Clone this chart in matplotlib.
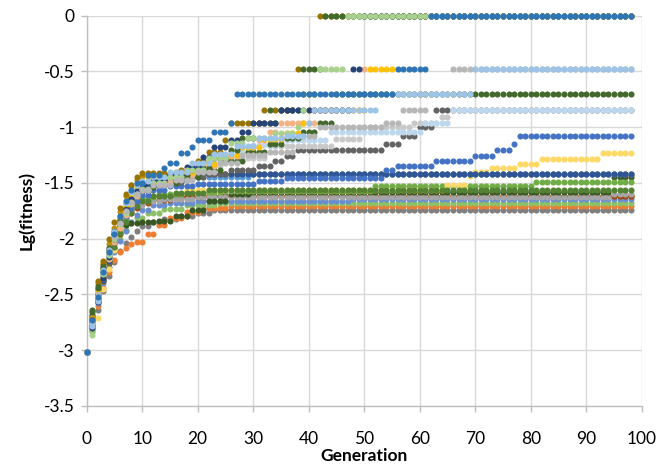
"""
Lg(fitness) of every run versus generation, drawn as a dot per generation.
Each run is stored as step points (generation, value); a value holds until the next step.
"""

import matplotlib
matplotlib.use("Agg")
import matplotlib.pyplot as plt
import numpy as np

generations = np.arange(0, 99)

# run data: (generation, lg fitness) step points
run01 = [(0, -3.02), (1, -2.82), (2, -2.64), (3, -2.47), (4, -2.33), (5, -2.21), (6, -2.11), (7, -2.04),
         (8, -1.98), (9, -1.93), (10, -1.89), (12, -1.85), (14, -1.82), (17, -1.80), (20, -1.77), (23, -1.745)]
run02 = [(0, -3.02), (1, -2.78), (2, -2.60), (3, -2.44), (4, -2.30), (5, -2.19), (6, -2.12), (7, -2.08),
         (8, -2.05), (9, -2.025), (11, -1.96), (13, -1.88), (15, -1.81), (18, -1.76), (21, -1.725), (26, -1.705)]
run03 = [(0, -3.02), (1, -2.84), (2, -2.50), (3, -2.36), (4, -2.22), (5, -2.10), (6, -2.00), (7, -1.92),
         (8, -1.86), (9, -1.81), (11, -1.77), (14, -1.73), (18, -1.70), (24, -1.68)]
run04 = [(0, -3.02), (1, -2.76), (2, -2.58), (3, -2.40), (4, -2.25), (5, -2.12), (6, -2.02), (7, -1.93),
         (8, -1.85), (9, -1.79), (10, -1.74), (12, -1.70), (15, -1.68), (20, -1.66), (48, -1.645)]
run05 = [(0, -3.02), (1, -2.72), (2, -2.54), (3, -2.36), (4, -2.19), (5, -2.05), (6, -1.93), (7, -1.83),
         (8, -1.74), (9, -1.68), (10, -1.64), (12, -1.62)]
run06 = [(0, -3.02), (1, -2.74), (2, -2.56), (3, -2.38), (4, -2.22), (5, -2.08), (6, -1.96), (7, -1.85),
         (8, -1.77), (9, -1.72), (10, -1.68), (12, -1.65), (16, -1.63), (22, -1.62)]
run07 = [(0, -3.02), (1, -2.70), (2, -2.50), (3, -2.33), (4, -2.18), (5, -2.04), (6, -1.92), (7, -1.82),
         (8, -1.75), (9, -1.70), (11, -1.66), (14, -1.64), (20, -1.63), (95, -1.60)]
run08 = [(0, -3.02), (1, -2.68), (2, -2.50), (3, -2.32), (4, -2.15), (5, -2.02), (6, -1.93), (7, -1.88),
         (8, -1.86), (10, -1.85), (13, -1.84), (16, -1.80), (19, -1.74), (22, -1.66), (26, -1.60), (30, -1.58),
         (95, -1.445)]
run09 = [(0, -3.02), (1, -2.72), (2, -2.53), (3, -2.34), (4, -2.18), (5, -2.03), (6, -1.91), (7, -1.81),
         (8, -1.73), (9, -1.67), (10, -1.63), (13, -1.60), (18, -1.58), (25, -1.57), (52, -1.53), (81, -1.49)]
run10 = [(0, -3.02), (1, -2.80), (2, -2.71), (3, -2.45), (4, -2.27), (5, -2.10), (6, -1.93), (7, -1.70),
         (8, -1.54), (11, -1.50), (14, -1.52), (18, -1.56), (65, -1.52), (69, -1.436), (70, -1.40),
         (73, -1.365), (78, -1.326), (82, -1.284), (93, -1.233)]
run11 = [(0, -3.02), (1, -2.77), (2, -2.55), (3, -2.37), (4, -2.21), (5, -2.07), (6, -1.95), (7, -1.85),
         (8, -1.77), (9, -1.71), (10, -1.66), (12, -1.62), (16, -1.59), (22, -1.562)]
run12 = [(0, -3.02), (1, -2.70), (2, -2.40), (3, -2.22), (4, -2.05), (5, -1.90), (6, -1.76), (7, -1.62),
         (8, -1.52), (9, -1.47), (10, -1.44), (13, -1.42), (21, -1.416)]
run13 = [(0, -3.02), (1, -2.77), (2, -2.47), (3, -2.25), (4, -2.08), (5, -1.93), (6, -1.80), (7, -1.69),
         (8, -1.60), (9, -1.55), (10, -1.50), (13, -1.47), (19, -1.45), (30, -1.416)]
run14 = [(0, -3.02), (1, -2.78), (2, -2.56), (3, -2.37), (4, -2.20), (5, -2.03), (6, -1.89), (7, -1.77),
         (8, -1.68), (9, -1.62), (10, -1.57), (12, -1.52), (15, -1.47), (18, -1.44), (21, -1.416)]
run15 = [(0, -3.02), (1, -2.75), (2, -2.50), (3, -2.30), (4, -2.11), (5, -1.98), (6, -1.88), (7, -1.80),
         (8, -1.72), (9, -1.66), (10, -1.61), (12, -1.56), (15, -1.53), (20, -1.51), (31, -1.48), (36, -1.457),
         (54, -1.38), (56, -1.344), (63, -1.30), (70, -1.257), (74, -1.206), (77, -1.152), (78, -1.08)]
run16 = [(0, -3.02), (1, -2.70), (2, -2.45), (3, -2.26), (4, -2.10), (5, -1.95), (6, -1.82), (7, -1.72),
         (8, -1.64), (9, -1.57), (10, -1.53), (13, -1.49), (18, -1.45), (22, -1.42), (26, -1.38), (31, -1.344),
         (34, -1.30), (36, -1.254), (38, -1.20), (54, -1.15), (57, -1.08), (60, -1.00), (63, -0.845)]
run17 = [(0, -3.02), (1, -2.73), (2, -2.48), (3, -2.28), (4, -2.12), (5, -1.97), (6, -1.85), (7, -1.74),
         (8, -1.64), (9, -1.57), (10, -1.52), (12, -1.48), (16, -1.42), (20, -1.35), (25, -1.28), (33, -1.164),
         (45, -1.11), (50, -1.00), (59, -0.96), (64, -0.905), (66, -0.845)]
run18 = [(0, -3.02), (1, -2.76), (2, -2.52), (3, -2.32), (4, -2.14), (5, -1.99), (6, -1.86), (7, -1.75),
         (8, -1.66), (9, -1.58), (10, -1.52), (12, -1.48), (15, -1.44), (18, -1.38), (22, -1.30), (26, -1.22),
         (30, -1.16), (35, -1.115), (44, -1.045), (61, -0.96), (66, -0.845)]
run19 = [(0, -3.02), (1, -2.66), (2, -2.42), (3, -2.24), (4, -2.08), (5, -1.94), (6, -1.82), (7, -1.72),
         (8, -1.64), (9, -1.58), (10, -1.54), (13, -1.50), (17, -1.45), (21, -1.38), (25, -1.30), (29, -1.22),
         (33, -1.15), (36, -1.10), (39, -1.04), (42, -0.96), (45, -0.70)]
run20 = [(0, -3.02), (1, -2.79), (2, -2.55), (3, -2.35), (4, -2.18), (5, -2.03), (6, -1.90), (7, -1.79),
         (8, -1.69), (9, -1.62), (10, -1.56), (12, -1.50), (16, -1.43), (20, -1.35), (24, -1.26), (28, -1.18),
         (31, -1.115), (33, -1.045), (35, -0.96), (42, -0.845), (50, -0.48), (51, 0.0)]
run21 = [(0, -3.02), (1, -2.71), (2, -2.46), (3, -2.27), (4, -2.10), (5, -1.95), (6, -1.82), (7, -1.70),
         (8, -1.60), (9, -1.53), (10, -1.48), (12, -1.45), (16, -1.40), (20, -1.33), (24, -1.25), (28, -1.18),
         (32, -1.11), (36, -1.05), (39, -0.96), (40, -0.845), (51, -0.48), (56, 0.0)]
run22 = [(0, -3.02), (1, -2.72), (2, -2.38), (3, -2.20), (4, -2.00), (5, -1.85), (6, -1.72), (7, -1.60),
         (8, -1.52), (9, -1.45), (10, -1.41), (17, -1.38), (20, -1.30), (22, -1.22), (25, -1.115), (26, -0.96),
         (32, -0.845), (33, -0.96), (34, -0.845), (38, -0.48), (39, -0.70), (42, 0.0)]
run23 = [(0, -3.02), (1, -2.64), (2, -2.44), (3, -2.26), (4, -2.10), (5, -1.96), (6, -1.84), (7, -1.73),
         (8, -1.65), (9, -1.58), (10, -1.53), (12, -1.48), (15, -1.43), (19, -1.37), (23, -1.28), (26, -1.20),
         (28, -1.10), (31, -0.96), (33, -0.845), (34, -0.96), (35, -0.845), (39, -0.48), (43, 0.0)]
run24 = [(0, -3.02), (1, -2.80), (2, -2.57), (3, -2.35), (4, -2.16), (5, -2.00), (6, -1.86), (7, -1.74),
         (8, -1.64), (9, -1.57), (10, -1.52), (12, -1.47), (15, -1.43), (18, -1.36), (21, -1.27), (23, -1.18),
         (26, -1.115), (28, -1.045), (30, -0.96), (35, -0.845), (48, -0.48), (50, 0.0)]
run25 = [(0, -3.02), (1, -2.86), (2, -2.52), (3, -2.32), (4, -2.15), (5, -2.00), (6, -1.87), (7, -1.77),
         (8, -1.68), (9, -1.60), (10, -1.55), (12, -1.50), (15, -1.45), (18, -1.38), (22, -1.28), (26, -1.14),
         (29, -1.10), (34, -1.05), (38, -1.00), (39, -0.845), (40, -0.70), (42, -0.48), (47, 0.0)]
run26 = [(0, -3.02), (1, -2.74), (2, -2.50), (3, -2.30), (4, -2.12), (5, -1.98), (6, -1.86), (7, -1.75),
         (8, -1.67), (9, -1.60), (10, -1.56), (12, -1.52), (16, -1.47), (20, -1.40), (24, -1.32), (28, -1.25),
         (33, -1.22), (38, -1.08), (42, -1.00), (54, -0.96), (57, -0.845), (62, -0.70), (66, -0.48)]
run27 = [(0, -3.02), (1, -2.78), (2, -2.56), (3, -2.28), (4, -2.10), (5, -1.94), (6, -1.80), (7, -1.68),
         (8, -1.58), (9, -1.52), (10, -1.48), (12, -1.45), (15, -1.40), (19, -1.32), (23, -1.24), (27, -1.17),
         (31, -1.10), (36, -1.08), (40, -0.96), (41, -0.845), (53, -0.70), (70, -0.48)]
run28 = [(0, -3.02), (1, -2.73), (2, -2.52), (3, -2.30), (4, -2.12), (5, -1.96), (6, -1.80), (7, -1.66),
         (8, -1.56), (9, -1.50), (11, -1.427), (14, -1.367), (15, -1.323), (17, -1.233), (19, -1.18),
         (20, -1.115), (23, -1.045), (26, -0.96), (27, -0.70), (56, -0.48), (62, 0.0)]

runs = [run01, run02, run03, run04, run05, run06, run07, run08, run09, run10, run11, run12, run13, run14,
        run15, run16, run17, run18, run19, run20, run21, run22, run23, run24, run25, run26, run27, run28]
run_colors = ['#7F7F7F', '#ED7D31', '#8CC168', '#698ED0', '#C55A11', '#9E480E', '#A5A5A5', '#385723',
              '#70AD47', '#FFD966', '#548235', '#BF9000', '#5B9BD5', '#2F5597', '#4472C4', '#636363',
              '#C9C9C9', '#BDD7EE', '#43682B', '#F4B183', '#FFC000', '#997300', '#43682B', '#264478',
              '#A9D18E', '#B7B7B7', '#9DC3E6', '#2E75B6']

x_ticks = [0, 10, 20, 30, 40, 50, 60, 70, 80, 90, 100]
y_ticks = [0, -0.5, -1, -1.5, -2, -2.5, -3, -3.5]


def expand(steps):
    # hold each step value until the next step point
    vals = np.empty(len(generations))
    for gen, v in steps:
        vals[generations >= gen] = v
    return vals


plt.rcParams['font.family'] = ['Lato', 'DejaVu Sans']
plt.rcParams['axes.unicode_minus'] = False

fig = plt.figure(figsize=(6.7, 4.65), dpi=100)
ax = fig.add_axes([0.1294, 0.1269, 0.8284, 0.8393])

for steps, color in zip(runs, run_colors):
    ax.plot(generations, expand(steps), 'o', color=color, markersize=4.4,
            markeredgewidth=0, clip_on=False, zorder=3)

ax.set_xlim(0, 100)
ax.set_ylim(-3.5, 0)
ax.set_xticks(x_ticks)
ax.set_yticks(y_ticks)
ax.set_xticklabels([str(t) for t in x_ticks])
ax.set_yticklabels(['{:g}'.format(t) for t in y_ticks])
ax.grid(True, color='#D9D9D9', linewidth=1.0, zorder=0)
ax.set_axisbelow(True)

for side in ['top', 'right']:
    ax.spines[side].set_visible(False)
for side in ['left', 'bottom']:
    ax.spines[side].set_color('#BFBFBF')
    ax.spines[side].set_linewidth(1.0)

ax.tick_params(axis='both', colors='#BFBFBF', labelcolor='black', labelsize=12.5, length=4, width=1)
ax.tick_params(axis='x', pad=14)
ax.tick_params(axis='y', pad=4.5)

ax.set_xlabel('Generation', fontsize=12.5, fontweight='bold', va='center')
ax.set_ylabel('Lg(fitness)', fontsize=12.5, fontweight='bold', va='center')
# label centres: x label about 456 px down, y label about 27 px across
ax.xaxis.set_label_coords(0.5, (465 - 456 - 59) / 390.3)
ax.yaxis.set_label_coords((26 - 86.7) / 555.0, 0.5)

fig.savefig('out.png', dpi=100)
plt.close(fig)
